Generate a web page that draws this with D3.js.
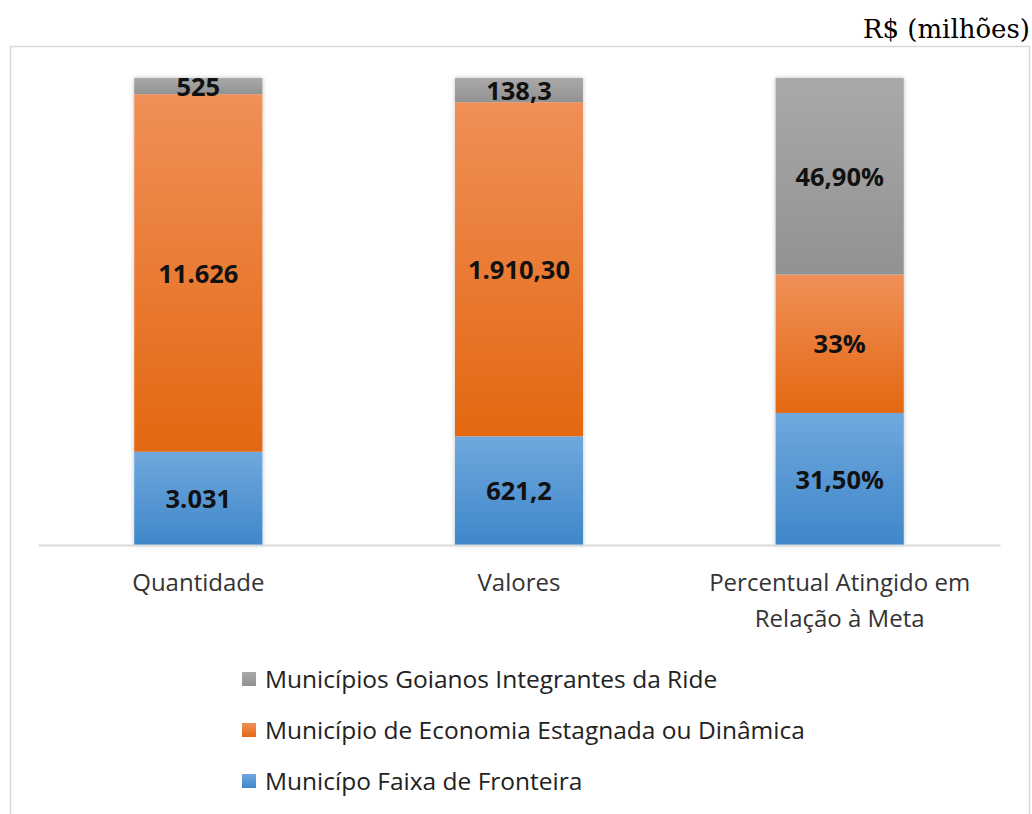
<!DOCTYPE html>
<html>
<head>
<meta charset="utf-8">
<script src="https://cdn.jsdelivr.net/npm/d3@7"></script>
<style>
  body { margin: 0; background: #fff; }
  svg { display: block; }
</style>
</head>
<body>
<div id="chart"></div>
<script>
const categories = ['Quantidade', 'Valores', 'Percentual Atingido em|Relação à Meta'];
const seriesNames = [
  'Municípo Faixa de Fronteira',
  'Município de Economia Estagnada ou Dinâmica',
  'Municípios Goianos Integrantes da Ride'
];
const fronteira = [3031, 621.2, 31.5];
const estagnada = [11626, 1910.3, 33];
const ride = [525, 138.3, 46.9];
const labelFronteira = ['3.031', '621,2', '31,50%'];
const labelEstagnada = ['11.626', '1.910,30', '33%'];
const labelRide = ['525', '138,3', '46,90%'];

const width = 1032, height = 814;
const plot = { left: 38, right: 1000, top: 78, bottom: 545 };

const svg = d3.select('#chart').append('svg')
  .attr('width', width)
  .attr('height', height);

const defs = svg.append('defs');
const grads = [
  { id: 'g0', top: '#6fa8de', bottom: '#3f87c9' },
  { id: 'g1', top: '#f08f58', bottom: '#e36811' },
  { id: 'g2', top: '#a9a9a9', bottom: '#929292' }
];
grads.forEach(g => {
  const lg = defs.append('linearGradient').attr('id', g.id)
    .attr('x1', 0).attr('y1', 0).attr('x2', 0).attr('y2', 1);
  lg.append('stop').attr('offset', '0%').attr('stop-color', g.top);
  lg.append('stop').attr('offset', '100%').attr('stop-color', g.bottom);
});
const shadow = defs.append('filter').attr('id', 'shadow')
  .attr('x', '-10%').attr('y', '-5%').attr('width', '120%').attr('height', '110%');
shadow.append('feDropShadow').attr('dx', 0).attr('dy', 0)
  .attr('stdDeviation', 2).attr('flood-color', '#000').attr('flood-opacity', 0.25);

// frame
svg.append('rect')
  .attr('x', 10.5).attr('y', 46.5)
  .attr('width', 1019).attr('height', 800)
  .attr('fill', 'none').attr('stroke', '#d9d9d9').attr('stroke-width', 1.5);

svg.append('text')
  .attr('x', 1030).attr('y', 38)
  .attr('text-anchor', 'end')
  .attr('font-family', 'DejaVu Serif, serif')
  .attr('font-size', 26)
  .attr('fill', '#000')
  .text('R$ (milhões)');

const data = categories.map((c, i) => ({
  cat: c, i,
  vals: [fronteira[i], estagnada[i], ride[i]],
  labels: [labelFronteira[i], labelEstagnada[i], labelRide[i]]
}));

const x = d3.scaleBand()
  .domain(categories)
  .range([plot.left, plot.right])
  .paddingInner(0.6)
  .paddingOuter(0.3);

const y = d3.scaleLinear().domain([0, 1]).range([plot.bottom, plot.top]);

const g = svg.append('g');
data.forEach(d => {
  const total = d3.sum(d.vals);
  let acc = 0;
  const segs = d.vals.map((v, k) => {
    const s = { k, y0: acc / total, y1: (acc + v) / total, label: d.labels[k] };
    acc += v;
    return s;
  });
  const bar = g.append('g');
  bar.append('rect')
    .attr('x', x(d.cat)).attr('width', x.bandwidth())
    .attr('y', y(1)).attr('height', y(0) - y(1))
    .attr('fill', '#fff')
    .attr('filter', 'url(#shadow)');
  bar.selectAll('rect.seg')
    .data(segs)
    .join('rect')
    .attr('class', 'seg')
    .attr('x', x(d.cat))
    .attr('width', x.bandwidth())
    .attr('y', s => y(s.y1))
    .attr('height', s => y(s.y0) - y(s.y1))
    .attr('fill', s => `url(#g${s.k})`);
  bar.selectAll('text')
    .data(segs)
    .join('text')
    .attr('x', x(d.cat) + x.bandwidth() / 2)
    .attr('y', s => (y(s.y0) + y(s.y1)) / 2)
    .attr('dy', '0.38em')
    .attr('text-anchor', 'middle')
    .attr('font-family', 'Open Sans, sans-serif')
    .attr('font-weight', 'bold')
    .attr('font-size', 25.5)
    .attr('fill', '#111')
    .text(s => s.label);
});

// axis
const xAxis = d3.axisBottom(x).tickSize(0).tickSizeOuter(0).tickFormat('');
const ax = svg.append('g')
  .attr('transform', `translate(0,${plot.bottom})`)
  .call(xAxis);
ax.select('.domain').attr('stroke', '#d9d9d9').attr('stroke-width', 2);
ax.selectAll('.tick').each(function (c) {
  const lines = c.split('|');
  const t = d3.select(this).append('text')
    .attr('fill', '#333')
    .attr('font-family', 'Open Sans, sans-serif')
    .attr('font-size', 24)
    .attr('text-anchor', 'middle');
  lines.forEach((l, j) => {
    t.append('tspan').attr('x', 0).attr('y', 46 + j * 36).text(l);
  });
});

// legend
const legendOrder = [2, 1, 0];
const legend = svg.append('g').attr('transform', 'translate(242,0)');
legendOrder.forEach((k, j) => {
  const yy = 679 + j * 51;
  legend.append('rect')
    .attr('x', 0).attr('y', yy - 7)
    .attr('width', 14).attr('height', 14)
    .attr('fill', `url(#g${k})`);
  legend.append('text')
    .attr('x', 23).attr('y', yy)
    .attr('dy', '0.35em')
    .attr('font-family', 'Open Sans, sans-serif')
    .attr('font-size', 24.5)
    .attr('fill', '#222')
    .text(seriesNames[k]);
});
</script>
</body>
</html>
